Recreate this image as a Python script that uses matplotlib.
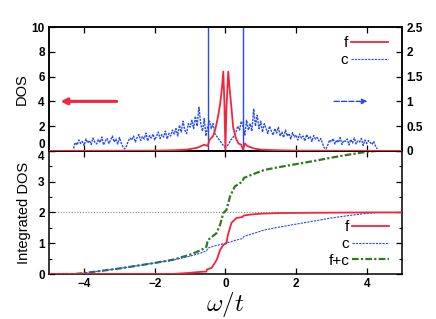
import numpy as np
import matplotlib.pyplot as plt

# ---- top panel: DOS ----
# f-electron DOS (left axis)
w_f = [-5, -2, -1.5, -1.1, -0.8, -0.6, -0.5, -0.45, -0.35, -0.3,
       -0.25, -0.2, -0.15, -0.1, -0.06, -0.03, 0, 0.03, 0.08, 0.12,
       0.17, 0.22, 0.3, 0.37, 0.45, 0.5, 0.55, 0.62, 0.8, 1.0,
       1.5, 2, 5]
dos_f = [0, 0.02, 0.05, 0.1, 0.25, 0.5, 0.4, 0.9, 1.2, 1.6,
         2.2, 2.9, 3.8, 5.0, 6.4, 4.0, 0.1, 3.5, 6.4, 5.0,
         3.5, 1.9, 1.0, 0.6, 0.5, 0.1, 0.6, 0.4, 0.2, 0.1,
         0.05, 0.02, 0]

# c-electron DOS (right axis), step 0.05 starting at -4.3
w_c0 = -4.3
w_c_step = 0.05
dos_c = [0.05, 0.17, 0.12, 0.22, 0.15, 0.19, 0.11, 0.24, 0.16, 0.21,
         0.13, 0.26, 0.18, 0.14, 0.23, 0.17, 0.28, 0.12, 0.2, 0.25,
         0.15, 0.22, 0.3, 0.18, 0.24, 0.14, 0.27,
         0.16, 0.08, 0.04, 0.1, 0.2, 0.26,
         0.22, 0.3, 0.18, 0.27, 0.33, 0.21, 0.29, 0.24, 0.36, 0.2,
         0.31, 0.26, 0.34, 0.22, 0.3, 0.38, 0.25, 0.33, 0.28, 0.4,
         0.24, 0.35, 0.3, 0.42,
         0.34, 0.45, 0.3, 0.52, 0.38, 0.6, 0.42, 0.35, 0.55, 0.48, 0.62,
         0.45, 0.7, 0.5, 0.88, 0.55, 0.4, 0.65, 0.3,
         0.5,
         0.6, 0.45, 0.55, 0.35, 0.3, 0.25, 0.2, 0.15, 0.1,
         0.08,
         0.1, 0.15, 0.22, 0.25, 0.32, 0.38, 0.5, 0.42, 0.6,
         0.5,
         0.32, 0.62, 0.42, 0.55, 0.4, 0.85, 0.5, 0.72,
         0.45, 0.6, 0.38, 0.55, 0.46, 0.35, 0.5, 0.4, 0.32, 0.45, 0.36,
         0.48, 0.3, 0.38, 0.27, 0.42, 0.3, 0.35, 0.24, 0.37, 0.28,
         0.32, 0.22, 0.34, 0.26, 0.3, 0.2, 0.33, 0.25, 0.29, 0.19,
         0.31, 0.24, 0.27, 0.2,
         0.25, 0.15, 0.06, 0.04, 0.12, 0.22,
         0.18, 0.25, 0.14, 0.22, 0.17, 0.27, 0.13, 0.21, 0.19, 0.24,
         0.12, 0.23, 0.16, 0.26, 0.14, 0.2, 0.18, 0.25, 0.11, 0.22,
         0.15, 0.21, 0.17, 0.13, 0.19, 0.1, 0.04]
# delta-like c peaks (off scale)
w_cpeak = [-0.5, 0.5]

# ---- bottom panel: integrated DOS ----
w_fint = [-5, -1.5, -1.0, -0.7, -0.54, -0.52, -0.39, -0.25, -0.15, -0.06,
          0.03, 0.07, 0.17, 0.31, 0.48, 0.52, 0.7, 1.0, 1.5, 2.5,
          4.0, 5]
f_int = [0, 0, 0.04, 0.07, 0.08, 0.15, 0.2, 0.45, 0.78, 0.95,
         1.0, 1.27, 1.66, 1.82, 1.85, 1.9, 1.93, 1.96, 1.98, 1.99,
         2.0, 2.0]

w_cint = [-5, -4.3, -4.0, -3.0, -2.0, -1.5, -1.0, -0.7, -0.53, -0.5,
          -0.35, -0.1, 0.1, 0.3, 0.48, 0.52, 0.8, 1.1, 1.5, 2.0,
          2.5, 3.0, 3.5, 4.0, 4.3, 5]
c_int = [0, 0, 0.03, 0.18, 0.36, 0.45, 0.58, 0.68, 0.76, 0.84,
         0.9, 0.97, 1.03, 1.1, 1.15, 1.22, 1.32, 1.43, 1.52, 1.62,
         1.72, 1.82, 1.9, 1.97, 2.0, 2.0]

w_tint = [-5, -4.3, -4.0, -3.0, -2.0, -1.5, -1.0, -0.7, -0.54, -0.5,
          -0.25, -0.15, -0.06, 0.03, 0.13, 0.27, 0.48, 0.52, 0.8, 1.1,
          1.5, 2.0, 2.5, 3.0, 3.5, 4.0, 4.3, 5]
tot_int = [0, 0, 0.03, 0.18, 0.36, 0.46, 0.63, 0.77, 0.88, 1.1,
           1.33, 1.6, 1.98, 2.08, 2.52, 2.85, 3.0, 3.12, 3.25, 3.38,
           3.47, 3.57, 3.67, 3.78, 3.88, 3.97, 4.0, 4.0]

red = '#f5243c'
blue = '#2448ff'
green = '#2f7a1f'
c_dash = (0, (1.6, 0.8))

plt.rcParams["font.family"] = ['Liberation Sans', 'DejaVu Sans']
plt.rcParams["mathtext.fontset"] = 'cm'

fig = plt.figure(figsize=(4.36, 3.19), dpi=100)
ax1 = fig.add_axes([0.112, 0.527, 0.81, 0.388])
ax2 = fig.add_axes([0.112, 0.141, 0.81, 0.386])
ax1r = ax1.twinx()

w_c = w_c0 + w_c_step * np.arange(len(dos_c))

ax1.plot(w_f, dos_f, color=red, lw=1.3, zorder=3)
ax1r.plot(w_c, dos_c, color=blue, lw=1.0, linestyle=c_dash)
ax1r.vlines(w_cpeak, 0, 2.5, color=blue, lw=1.0)
ax1.set_zorder(ax1r.get_zorder() + 1)
ax1.patch.set_visible(False)

ax1.set_xlim(-5, 5)
ax1.set_ylim(0, 10)
ax1r.set_ylim(0, 2.5)
ax1.set_xticks([-4, -2, 0, 2, 4])
ax1.set_xticklabels([])
ax1.set_yticks([0, 2, 4, 6, 8, 10])
ax1r.set_yticks([0, 0.5, 1, 1.5, 2, 2.5])
ax1r.set_yticklabels(['0', '0.5', '1', '1.5', '2', '2.5'])
ax1.set_ylabel('DOS', fontsize=10.5, labelpad=2)

ax1.annotate('', xy=(-4.75, 4), xytext=(-3.0, 4),
             arrowprops=dict(arrowstyle='-|>', color=red, lw=2.2, mutation_scale=9))
ax1r.annotate('', xy=(4.1, 1.0), xytext=(3.0, 1.0),
              arrowprops=dict(arrowstyle='-|>', color=blue, lw=1.0, linestyle='--', mutation_scale=8))

h_f, = ax1.plot([], [], color=red, lw=1.3)
h_c, = ax1.plot([], [], color=blue, lw=0.8, linestyle=(0, (2, 1)))
ax1.legend([h_f, h_c], ['f', 'c'], loc='upper right', bbox_to_anchor=(0.985, 1.0),
           frameon=False, markerfirst=False, fontsize=11, handlelength=2.4,
           handletextpad=0.2, labelspacing=0.2, borderaxespad=0.2)

# bottom panel
ax2.axhline(2, color='#888888', lw=0.8, linestyle=(0, (1, 1.5)), zorder=1)
ax2.plot(w_tint, tot_int, color=green, lw=1.6, linestyle=(0, (3, 1, 1, 1)), zorder=2)
ax2.plot(w_cint, c_int, color=blue, lw=0.8, linestyle=(0, (2, 1)), zorder=3)
ax2.plot(w_fint, f_int, color=red, lw=1.3, zorder=4)
ax2.set_xlim(-5, 5)
ax2.set_ylim(0, 4.0)
ax2.set_xticks([-4, -2, 0, 2, 4])
ax2.set_yticks([0, 1, 2, 3, 4])
ax2.set_yticks([0.5, 1.5, 2.5, 3.5], minor=True)
ax2.set_ylabel('Integrated DOS', fontsize=10.5, labelpad=5)
ax2.set_xlabel(r'$\omega/t$', fontsize=18, labelpad=0)

h_t, = ax2.plot([], [], color=green, lw=1.6, linestyle=(0, (3, 1, 1, 1)))
ax2.legend([h_f, h_c, h_t], ['f', 'c', 'f+c'], loc='lower right', bbox_to_anchor=(0.985, -0.01),
           frameon=False, markerfirst=False, fontsize=11, handlelength=2.4,
           handletextpad=0.2, labelspacing=0.18, borderaxespad=0.1)

for ax in (ax1, ax1r, ax2):
    for sp in ax.spines.values():
        sp.set_linewidth(1.1)
    ax.tick_params(direction='in', length=4, width=0.9, labelsize=8.5, pad=3)
    ax.tick_params(which='minor', direction='in', length=2.5, width=0.8)
    for lab in ax.get_xticklabels() + ax.get_yticklabels():
        lab.set_fontweight('bold')
ax1.tick_params(top=True, right=False)
ax2.tick_params(top=True, right=True, which='both')

# keep the shared-edge labels apart
ax1.get_yticklabels()[0].set_verticalalignment('bottom')
ax2.get_yticklabels()[-1].set_verticalalignment('top')

fig.savefig('out.png', dpi=100)
